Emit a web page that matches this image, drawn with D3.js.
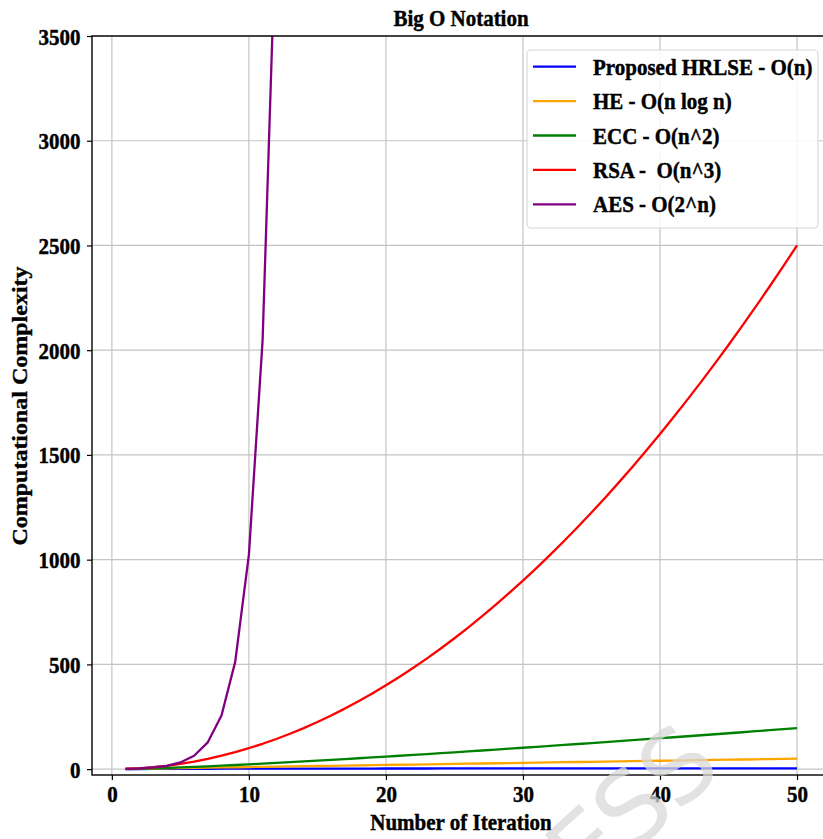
<!DOCTYPE html>
<html>
<head>
<meta charset="utf-8">
<script src="https://cdn.jsdelivr.net/npm/d3@7"></script>
<style>
  body { margin: 0; background: #fff; }
  svg text { font-family: "Liberation Serif", "Times New Roman", serif; font-weight: bold; white-space: pre; }
  svg text.lbl { stroke: #000; stroke-width: 0.45px; }
</style>
</head>
<body>
<svg id="chart" style="width:823px;height:839px"></svg>
<script>
// number of iterations (x)
var iterations = [1,2,3,4,5,6,7,8,9,10,11,12,13,14,15,16,17,18,19,20,21,22,23,24,25,
                  26,27,28,29,30,31,32,33,34,35,36,37,38,39,40,41,42,43,44,45,46,47,48,49,50];

// series values
var hrlse = [0,0.7,1.1,1.4,1.6,1.8,1.9,2.1,2.2,2.3,2.4,2.5,2.6,2.6,2.7,2.8,2.8,2.9,2.9,3.0,
             3.0,3.1,3.1,3.2,3.2,3.3,3.3,3.3,3.4,3.4,3.4,3.5,3.5,3.5,3.6,3.6,3.6,3.6,3.7,3.7,
             3.7,3.7,3.8,3.8,3.8,3.8,3.9,3.9,3.9,3.9];
var he = [1,2,3,4,5,6,7,8,9,10,11,12,13,14,15,16,17,18,19,20,21,22,23,24,25,
          26,27,28,29,30,31,32,33,34,35,36,37,38,39,40,41,42,43,44,45,46,47,48,49,50];
var ecc = [0,1.4,3.3,5.5,8.0,10.8,13.6,16.6,19.8,23.0,26.4,29.8,33.3,36.9,40.6,44.4,48.2,52.0,55.9,59.9,
           63.9,68.0,72.1,76.3,80.5,84.7,89.0,93.3,97.7,102.0,106.5,110.9,115.4,119.9,124.4,129.0,133.6,138.2,142.9,147.6,
           152.3,157.0,161.7,166.5,171.3,176.1,181.0,185.8,190.7,195.6];
var rsa = [1,4,9,16,25,36,49,64,81,100,121,144,169,196,225,256,289,324,361,400,
           441,484,529,576,625,676,729,784,841,900,961,1024,1089,1156,1225,1296,1369,1444,1521,1600,
           1681,1764,1849,1936,2025,2116,2209,2304,2401,2500];
var aes = [2,4,8,16,32,64,128,256,512,1024,2048,4096];

var seriesNames = ["Proposed HRLSE - O(n)", "HE - O(n log n)", "ECC - O(n^2)", "RSA -  O(n^3)", "AES - O(2^n)"];
var seriesColors = ["blue", "orange", "green", "red", "purple"];
var seriesValues = [hrlse, he, ecc, rsa, aes];

var xTicks = [0, 10, 20, 30, 40, 50];
var yTicks = [0, 500, 1000, 1500, 2000, 2500, 3000, 3500];

init();

function init() {
  var svg = d3.select('#chart');
  var pLeft = 92, pRight = 830.6, pTop = 36, pBottom = 775;
  var sx = 0.875; // text in the picture is a bit narrower than tall

  var xScale = d3.scaleLinear().domain([-1.45, 52.45]).range([pLeft, pRight]);
  var yScale = d3.scaleLinear().domain([-28, 3500]).range([pBottom, pTop]);

  svg.append('defs').append('clipPath').attr('id', 'plotclip')
    .append('rect')
    .attr('x', pLeft).attr('y', pTop)
    .attr('width', pRight - pLeft).attr('height', pBottom - pTop);

  // grid
  var grid = svg.append('g');
  grid.selectAll('line.gx').data(xTicks).enter().append('line')
    .attr('x1', function(d){ return xScale(d); })
    .attr('x2', function(d){ return xScale(d); })
    .attr('y1', pTop).attr('y2', pBottom)
    .attr('stroke', '#c4c4c4').attr('stroke-width', 1.2);
  grid.selectAll('line.gy').data(yTicks).enter().append('line')
    .attr('x1', pLeft).attr('x2', pRight)
    .attr('y1', function(d){ return yScale(d); })
    .attr('y2', function(d){ return yScale(d); })
    .attr('stroke', '#c4c4c4').attr('stroke-width', 1.2);

  // lines
  var line = d3.line()
    .x(function(d){ return xScale(d[0]); })
    .y(function(d){ return yScale(d[1]); });

  var plot = svg.append('g').attr('clip-path', 'url(#plotclip)');
  seriesValues.forEach(function(vals, i){
    var pts = vals.map(function(v, j){ return [iterations[j], v]; });
    plot.append('path')
      .attr('d', line(pts))
      .attr('fill', 'none')
      .attr('stroke', seriesColors[i])
      .attr('stroke-width', 2.3)
      .attr('stroke-linejoin', 'round');
  });

  // axes
  var xAxis = svg.append('g')
    .attr('transform', 'translate(0,' + pBottom + ')')
    .call(d3.axisBottom(xScale).tickValues(xTicks).tickSize(5).tickSizeOuter(0).tickFormat(d3.format('d')));
  xAxis.selectAll('text')
    .attr('y', null).attr('dy', null)
    .attr('class', 'lbl')
    .attr('transform', 'translate(0,27) scale(' + sx + ',1)')
    .attr('font-size', 24).attr('fill', '#000');

  var yAxis = svg.append('g')
    .attr('transform', 'translate(' + pLeft + ',0)')
    .call(d3.axisLeft(yScale).tickValues(yTicks).tickSize(5).tickSizeOuter(0).tickFormat(d3.format('d')));
  yAxis.selectAll('text')
    .attr('x', null).attr('dy', null)
    .attr('class', 'lbl')
    .attr('transform', 'translate(-11.5,8) scale(' + sx + ',1)')
    .attr('font-size', 24).attr('fill', '#000');

  svg.selectAll('.domain').remove();
  svg.selectAll('.tick line').attr('stroke', '#000').attr('stroke-width', 1.2);

  // spines
  svg.append('rect')
    .attr('x', pLeft).attr('y', pTop)
    .attr('width', pRight - pLeft).attr('height', pBottom - pTop)
    .attr('fill', 'none').attr('stroke', '#000').attr('stroke-width', 1.4);

  // legend
  var legend = svg.append('g');
  legend.append('rect')
    .attr('x', 527).attr('y', 50).attr('width', 291).attr('height', 178)
    .attr('rx', 4).attr('fill', '#fff').attr('fill-opacity', 0.85)
    .attr('stroke', '#d6d6d6').attr('stroke-width', 1.1);
  seriesNames.forEach(function(name, i){
    var ry = 66.7 + i * 34.4;
    legend.append('line')
      .attr('x1', 533).attr('x2', 576).attr('y1', ry).attr('y2', ry)
      .attr('stroke', seriesColors[i]).attr('stroke-width', 2.3);
    legend.append('text')
      .attr('class', 'lbl')
      .attr('transform', 'translate(593,' + (ry + 8) + ') scale(' + sx + ',1)')
      .attr('font-size', 24)
      .text(name);
  });

  // title and labels
  svg.append('text')
    .attr('class', 'lbl')
    .attr('transform', 'translate(461,26) scale(' + sx + ',1)')
    .attr('text-anchor', 'middle').attr('font-size', 24)
    .text('Big O Notation');
  svg.append('text')
    .attr('class', 'lbl')
    .attr('transform', 'translate(461,830) scale(' + sx + ',1)')
    .attr('text-anchor', 'middle').attr('font-size', 24)
    .text('Number of Iteration');
  svg.append('text')
    .attr('class', 'lbl')
    .attr('transform', 'translate(27,406) rotate(-90) scale(1,' + sx + ')')
    .attr('text-anchor', 'middle').attr('font-size', 24)
    .text('Computational Complexity');

  // faint watermark over the picture
  svg.append('text')
    .attr('transform', 'translate(608,876) rotate(-42)')
    .attr('text-anchor', 'middle')
    .style('font-family', '"DejaVu Sans", sans-serif').style('font-weight', 'normal')
    .attr('font-size', 100).attr('letter-spacing', -2)
    .attr('fill', '#d8d8d8').attr('fill-opacity', 0.75)
    .text('PRESS');
}
</script>
</body>
</html>
